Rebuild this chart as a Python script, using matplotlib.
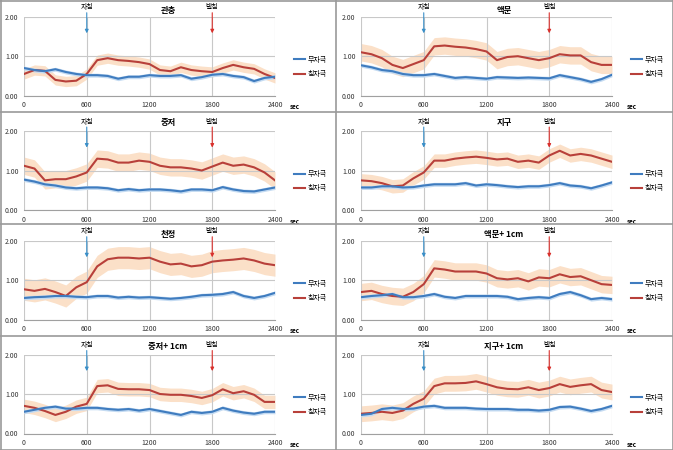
import numpy as np
import matplotlib
matplotlib.use("Agg")
import matplotlib.pyplot as plt
from matplotlib.lines import Line2D

plt.rcParams['font.family'] = ['Noto Sans CJK KR', 'DejaVu Sans']

# time axis (sec)
t = [0, 100, 200, 300, 400, 500, 600, 700, 800, 900, 1000, 1100, 1200,
     1300, 1400, 1500, 1600, 1700, 1800, 1900, 2000, 2100, 2200, 2300, 2400]

titles = ["관충", "액문", "중저", "지구", "천정", "액문+ 1cm", "중저+ 1cm", "지구+ 1cm"]

# 무자극 (no stimulation)
blue = [
    [0.70, 0.65, 0.62, 0.67, 0.60, 0.55, 0.52, 0.52, 0.50, 0.43, 0.48, 0.48, 0.52,
     0.50, 0.50, 0.52, 0.43, 0.47, 0.53, 0.55, 0.50, 0.47, 0.37, 0.45, 0.48],
    [0.77, 0.72, 0.65, 0.62, 0.55, 0.52, 0.52, 0.55, 0.50, 0.45, 0.47, 0.45, 0.43,
     0.47, 0.46, 0.45, 0.46, 0.45, 0.44, 0.52, 0.47, 0.42, 0.35, 0.42, 0.53],
    [0.77, 0.72, 0.65, 0.62, 0.57, 0.55, 0.57, 0.57, 0.55, 0.50, 0.53, 0.50, 0.52,
     0.52, 0.50, 0.47, 0.52, 0.52, 0.50, 0.58, 0.52, 0.48, 0.47, 0.52, 0.57],
    [0.57, 0.57, 0.60, 0.60, 0.57, 0.58, 0.62, 0.65, 0.65, 0.65, 0.68, 0.62, 0.65,
     0.63, 0.60, 0.58, 0.60, 0.60, 0.63, 0.68, 0.62, 0.60, 0.55, 0.62, 0.70],
    [0.55, 0.57, 0.58, 0.60, 0.60, 0.58, 0.57, 0.60, 0.60, 0.56, 0.58, 0.56, 0.57,
     0.55, 0.53, 0.55, 0.58, 0.62, 0.63, 0.65, 0.70, 0.60, 0.55, 0.60, 0.68],
    [0.57, 0.60, 0.62, 0.65, 0.57, 0.57, 0.60, 0.65, 0.58, 0.55, 0.60, 0.60, 0.60,
     0.60, 0.58, 0.52, 0.55, 0.57, 0.55, 0.65, 0.70, 0.62, 0.52, 0.55, 0.52],
    [0.55, 0.60, 0.65, 0.68, 0.63, 0.63, 0.65, 0.65, 0.62, 0.60, 0.62, 0.58, 0.62,
     0.57, 0.52, 0.47, 0.55, 0.52, 0.55, 0.65, 0.58, 0.53, 0.50, 0.55, 0.55],
    [0.47, 0.50, 0.62, 0.65, 0.62, 0.63, 0.68, 0.70, 0.65, 0.65, 0.65, 0.63, 0.62,
     0.62, 0.62, 0.60, 0.60, 0.58, 0.60, 0.67, 0.68, 0.63, 0.57, 0.62, 0.70],
]

# 침자극 (acupuncture stimulation)
red = [
    [0.55, 0.65, 0.63, 0.40, 0.36, 0.38, 0.55, 0.90, 0.95, 0.90, 0.88, 0.85, 0.80,
     0.65, 0.62, 0.72, 0.65, 0.62, 0.60, 0.70, 0.78, 0.72, 0.68, 0.55, 0.45],
    [1.10, 1.05, 0.95, 0.78, 0.70, 0.80, 0.90, 1.25, 1.27, 1.24, 1.22, 1.18, 1.12,
     0.90, 0.98, 1.00, 0.95, 0.90, 0.95, 1.05, 1.02, 1.02, 0.85, 0.78, 0.78],
    [1.12, 1.05, 0.75, 0.78, 0.78, 0.85, 0.95, 1.30, 1.28, 1.20, 1.20, 1.25, 1.22,
     1.12, 1.08, 1.08, 1.05, 1.00, 1.10, 1.20, 1.12, 1.15, 1.08, 0.95, 0.75],
    [0.75, 0.73, 0.68, 0.60, 0.62, 0.80, 0.95, 1.25, 1.25, 1.30, 1.33, 1.35, 1.32,
     1.28, 1.30, 1.22, 1.25, 1.20, 1.38, 1.50, 1.38, 1.42, 1.38, 1.30, 1.22],
    [0.77, 0.73, 0.78, 0.70, 0.60, 0.82, 0.95, 1.35, 1.53, 1.57, 1.57, 1.55, 1.57,
     1.47, 1.40, 1.42, 1.35, 1.38, 1.47, 1.50, 1.52, 1.55, 1.50, 1.42, 1.38],
    [0.70, 0.73, 0.65, 0.60, 0.58, 0.70, 0.90, 1.30, 1.27, 1.22, 1.22, 1.22, 1.17,
     1.05, 1.02, 1.05, 0.97, 1.07, 1.05, 1.15, 1.08, 1.10, 1.00, 0.90, 0.88],
    [0.70, 0.65, 0.57, 0.47, 0.55, 0.68, 0.75, 1.20, 1.22, 1.13, 1.12, 1.12, 1.10,
     1.00, 0.98, 0.98, 0.95, 0.90, 0.97, 1.12, 1.02, 1.07, 0.98, 0.80, 0.80],
    [0.50, 0.52, 0.55, 0.52, 0.58, 0.75, 0.88, 1.20, 1.27, 1.27, 1.28, 1.32, 1.25,
     1.17, 1.13, 1.12, 1.17, 1.10, 1.15, 1.25, 1.18, 1.22, 1.25, 1.10, 1.05],
]

# half-width of the shaded error bands
blue_err = [0.05, 0.05, 0.05, 0.05, 0.05, 0.05, 0.05, 0.05]
red_err = [0.13, 0.22, 0.22, 0.17, 0.28, 0.22, 0.17, 0.20]

C_BLUE = "#3f7cbf"
C_BLUE_BAND = "#c4dbf2"
C_RED = "#b8403a"
C_RED_BAND = "#fbe0c8"
C_ARROW_IN = "#3a8fc8"
C_ARROW_OUT = "#d9302c"

W, H = 673, 450
fig = plt.figure(figsize=(W / 100, H / 100), dpi=100)

col_x = [24, 361]
row_top = [16.7, 131, 240.7, 354.5]   # pixel row of the 2.00 line
plot_w = 251
plot_h = 79
panel_top = [0, 112, 224, 337]

for i in range(8):
    r, c = divmod(i, 2)
    x0 = col_x[c]
    y0 = row_top[r]
    ax = fig.add_axes([x0 / W, 1 - (y0 + plot_h) / H, plot_w / W, plot_h / H])

    b = np.array(blue[i])
    rr = np.array(red[i])
    ax.fill_between(t, rr - red_err[i], rr + red_err[i], color=C_RED_BAND, lw=0, zorder=1)
    ax.fill_between(t, b - blue_err[i], b + blue_err[i], color=C_BLUE_BAND, lw=0, zorder=2)
    ax.plot(t, b, color=C_BLUE, lw=1.5, zorder=4, label="무자극")
    ax.plot(t, rr, color=C_RED, lw=1.5, zorder=3, label="침자극")

    ax.set_xlim(0, 2400)
    ax.set_ylim(0, 2)
    ax.set_xticks([0, 600, 1200, 1800, 2400])
    ax.set_yticks([0, 1, 2])
    ax.set_yticklabels(["0.00", "1.00", "2.00"])
    ax.tick_params(labelsize=5, length=0, pad=4, colors="#333333")
    ax.grid(True, color="#c8c8c8", lw=0.8)
    for s in ["top", "right", "left"]:
        ax.spines[s].set_visible(False)
    ax.spines["bottom"].set_color("#a0a0a0")

    # title centred in panel
    cx = c * 336 + 168
    fig.text(cx / W, 1 - (panel_top[r] + 10) / H, titles[i], ha="center", va="center",
             fontsize=6, fontweight="bold")

    # needle in / needle out arrows
    for xa, lab, col in [(600, "자침", C_ARROW_IN), (1800, "발침", C_ARROW_OUT)]:
        ax.annotate("", xy=(xa, 1.58), xytext=(xa, 2.1),
                    arrowprops=dict(arrowstyle="-|>", color=col, lw=0.8,
                                    mutation_scale=5, shrinkA=0, shrinkB=0),
                    annotation_clip=False, zorder=6)
        ax.text(xa, 2.24, lab, ha="center", va="center", fontsize=5,
                clip_on=False)

    ax.text(2540, -0.28, "sec", fontsize=4.5, fontweight="bold", ha="left",
            va="center", clip_on=False)

    ax.legend(loc="center left", bbox_to_anchor=(1.076, 0.363), frameon=False,
              fontsize=5, handlelength=1.6, handletextpad=0.3, labelspacing=0.9,
              borderpad=0, borderaxespad=0)

# panel borders
border = "#9a9a9a"
for yy in [0.5, 112, 224, 336, 449.5]:
    fig.add_artist(Line2D([0, 1], [1 - yy / H, 1 - yy / H], color=border, lw=1.2))
for xx in [0.5, 336, 672.5]:
    fig.add_artist(Line2D([xx / W, xx / W], [0, 1], color=border, lw=1.2))

fig.savefig("out.png", dpi=100)
